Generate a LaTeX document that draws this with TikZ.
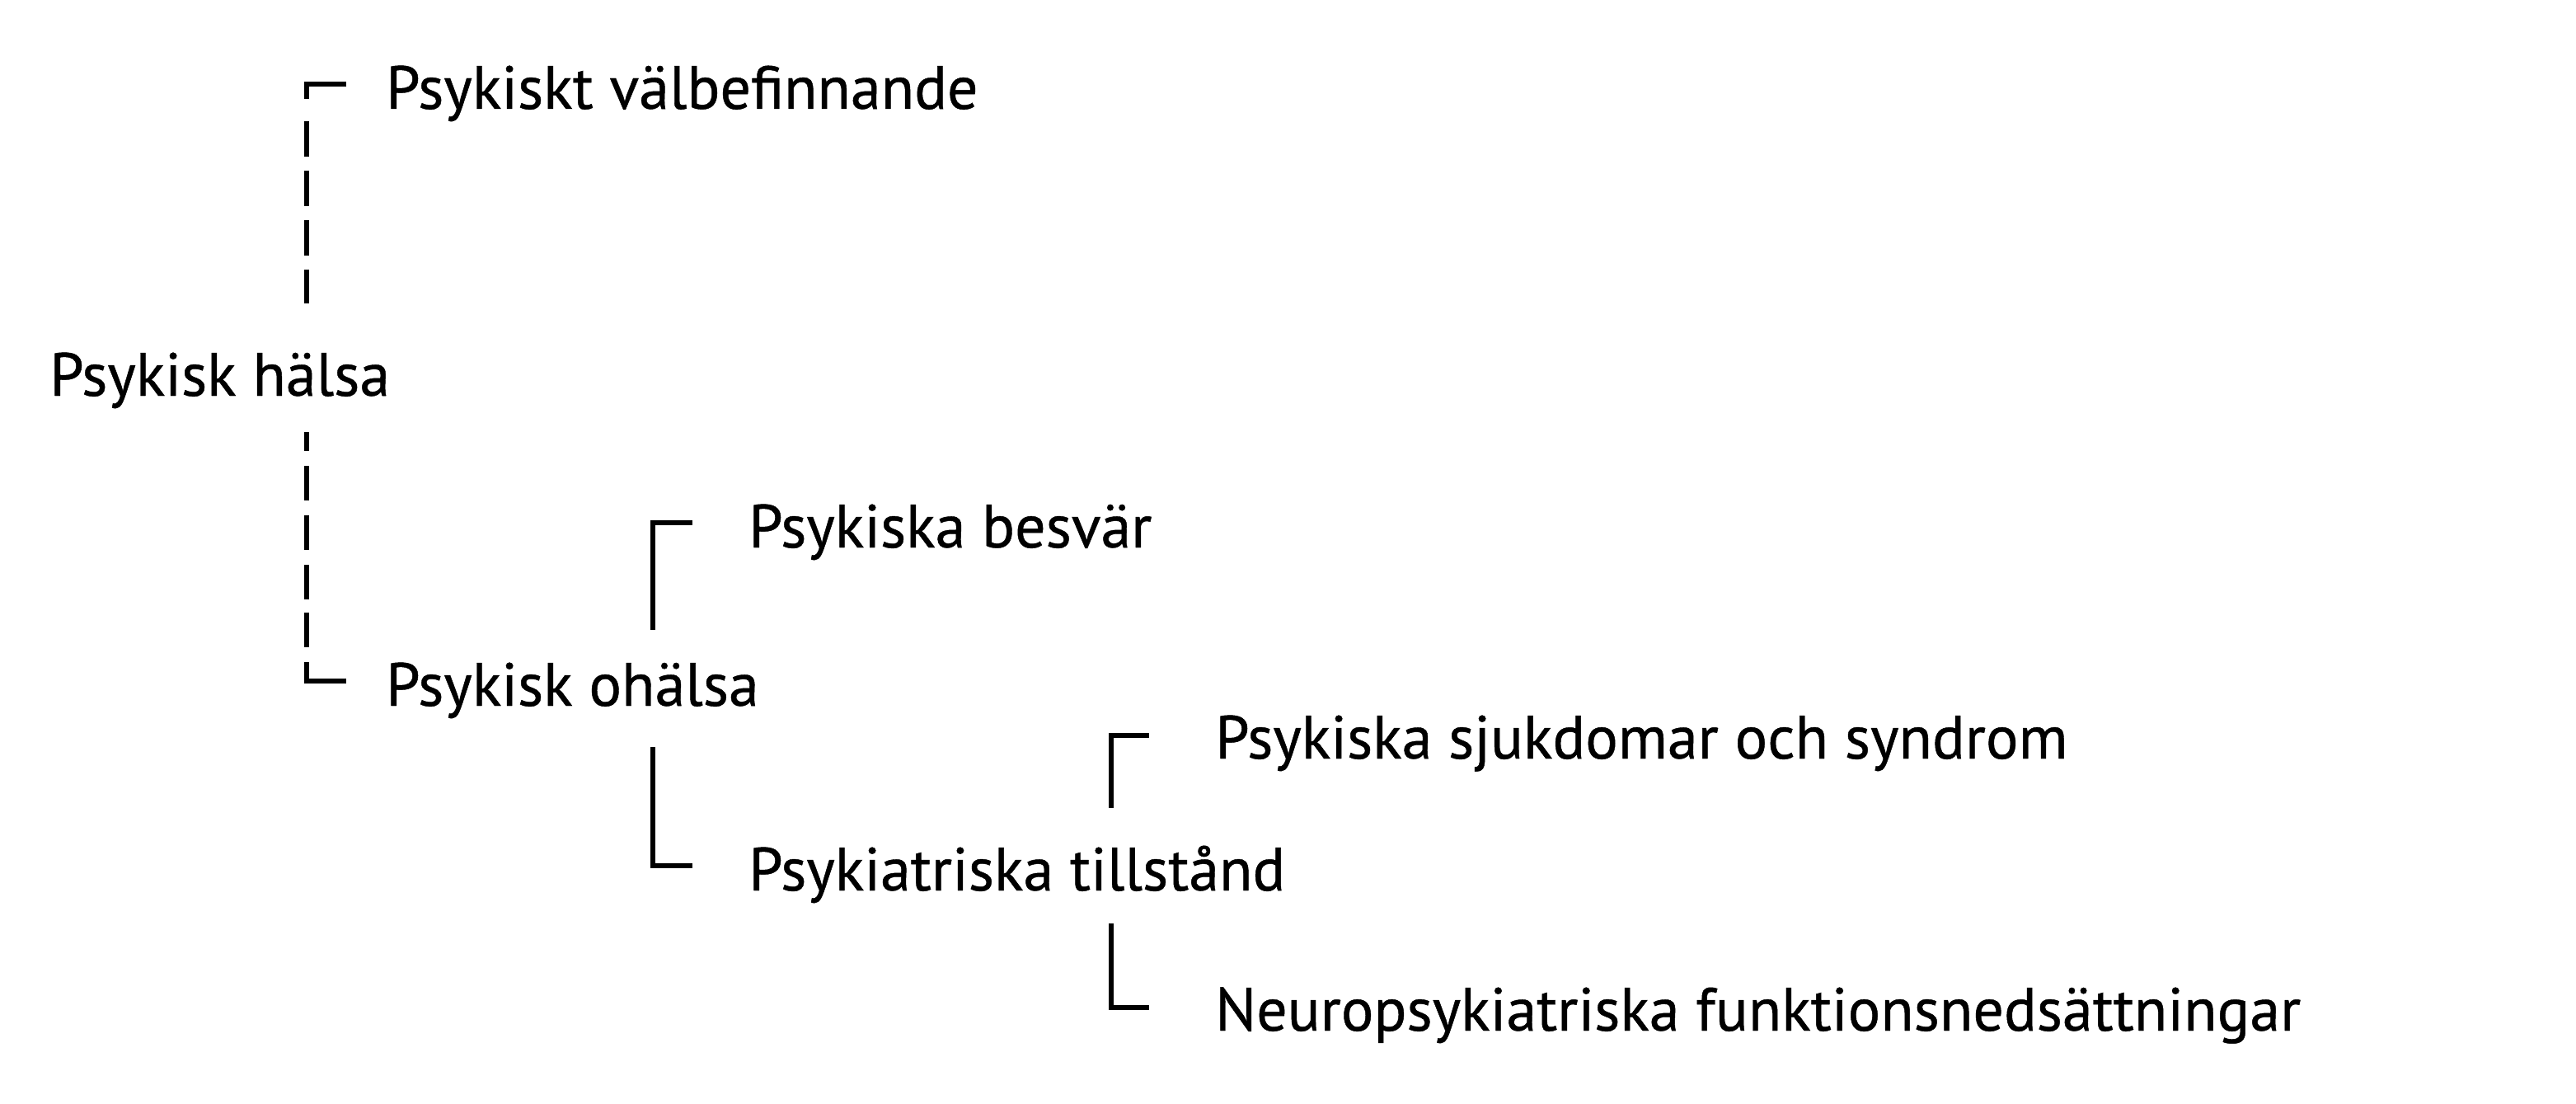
\documentclass[tikz,border=0pt]{standalone}
\usepackage{fontspec}
\setmainfont[FakeBold=0.6]{PT Sans}
\begin{document}
\begin{tikzpicture}[x=1pt,y=-1pt,
    term/.style={anchor=base west, inner sep=0pt, font=\fontsize{37}{44}\selectfont},
    link/.style={line width=2.6pt},
    dashtop/.style={link, dash pattern=on 33pt off 13.5pt on 21.5pt off 8.5pt on 21.5pt off 8.5pt on 21.5pt off 8.5pt on 21.5pt off 8.5pt on 40pt},
    dashbot/.style={link, dash pattern=on 11.5pt off 9pt on 21pt off 9pt on 21pt off 9pt on 21pt off 8pt on 21pt off 9pt on 45pt}]
    \useasboundingbox (0,0) rectangle (1562.5,669);

    % Terms
    \node[term] (halsa) at (30,240) {Psykisk hälsa};
    \node[term] (valbef) at (234,66) {Psykiskt välbefinnande};
    \node[term] (ohalsa) at (234,428) {Psykisk ohälsa};
    \node[term] (besvar) at (454,332) {Psykiska besvär};
    \node[term] (tillstand) at (454,540) {Psykiatriska tillstånd};
    \node[term] (sjukdom) at (737,460) {Psykiska sjukdomar och syndrom};
    \node[term] (neuro) at (737,625) {Neuropsykiatriska funktionsnedsättningar};

    % Dashed bracket round Psykisk hälsa
    \coordinate (t1) at (186,184);
    \coordinate (u1) at (186,262);
    \draw[dashtop] ([xshift=-24pt,yshift=15pt]valbef.base west) -| (t1);
    \draw[dashbot] (u1) |- ([xshift=-24pt,yshift=15pt]ohalsa.base west);

    % Brackets below Psykisk ohälsa
    \coordinate (c2) at (396,382);
    \coordinate (c3) at (396,453);
    \draw[link] (c2) |- ([xshift=-34pt,yshift=15pt]besvar.base west);
    \draw[link] (c3) |- ([xshift=-34pt,yshift=15pt]tillstand.base west);

    % Brackets below Psykiatriska tillstånd
    \coordinate (c4) at (674,490);
    \coordinate (c5) at (674,560);
    \draw[link] (c4) |- ([xshift=-40pt,yshift=14pt]sjukdom.base west);
    \draw[link] (c5) |- ([xshift=-40pt,yshift=14pt]neuro.base west);
\end{tikzpicture}
\end{document}
